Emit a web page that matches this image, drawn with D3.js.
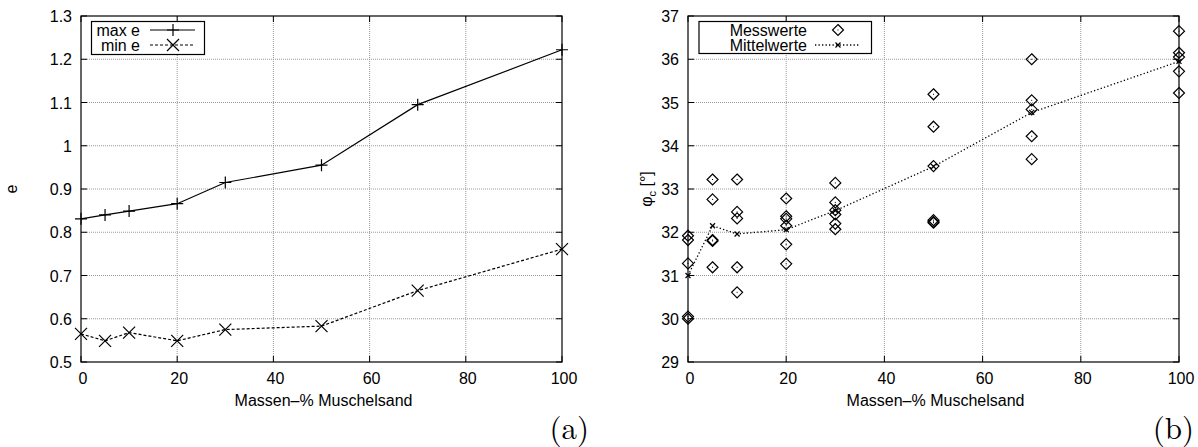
<!DOCTYPE html>
<html><head><meta charset="utf-8">
<script src="https://cdn.jsdelivr.net/npm/d3@7"></script>
<style>body{margin:0;background:#fff}svg{display:block}text{font-family:"Liberation Sans",Arial,sans-serif}</style>
</head><body><svg id="c" width="1198" height="447"></svg>
<script>
// ---- Data (a)
const massA = [0, 5, 10, 20, 30, 50, 70, 100];
const maxE = [0.831, 0.840, 0.849, 0.866, 0.915, 0.955, 1.095, 1.222];
const minE = [0.565, 0.549, 0.568, 0.549, 0.575, 0.583, 0.665, 0.761];
const yTicksA = [0.5, 0.6, 0.7, 0.8, 0.9, 1, 1.1, 1.2, 1.3];
const xTicks = [0, 20, 40, 60, 80, 100];
// ---- Data (b)
const messX = [0,0,0,0,0, 5,5,5,5,5, 10,10,10,10,10, 20,20,20,20,20,20, 30,30,30,30,30,30, 50,50,50,50,50,50, 70,70,70,70,70, 100,100,100,100,100];
const messY = [31.92,31.82,31.28,30.05,30.0, 33.22,32.76,31.82,31.80,31.19, 33.22,32.47,32.32,31.19,30.61, 32.78,32.37,32.31,32.15,31.72,31.27, 33.14,32.69,32.51,32.41,32.20,32.07, 35.19,34.44,33.53,32.28,32.24,32.22, 36.0,35.05,34.84,34.22,33.69, 36.65,36.15,36.05,35.72,35.22];
const mittelX = [0, 5, 10, 20, 30, 50, 70, 100];
const mittelY = [31.0, 32.15, 31.96, 32.06, 32.5, 33.52, 34.77, 35.95];
const yTicksB = [29, 30, 31, 32, 33, 34, 35, 36, 37];

const svg = d3.select("#c");

function frame(x, y, xt, yt, fmt) {
  const g = svg.append("g");
  const [x0, x1] = x.range(), [y0, y1] = y.range();
  xt.forEach(t => { if (t !== 0 && t !== 100) g.append("line").attr("x1", x(t)).attr("x2", x(t)).attr("y1", y0).attr("y2", y1).attr("stroke", "#999").attr("stroke-width", 1).attr("stroke-dasharray", "1,1"); });
  yt.forEach((t, i) => { if (i > 0 && i < yt.length - 1) g.append("line").attr("x1", x0).attr("x2", x1).attr("y1", y(t)).attr("y2", y(t)).attr("stroke", "#999").attr("stroke-width", 1).attr("stroke-dasharray", "1,1"); });
  xt.forEach(t => {
    g.append("line").attr("x1", x(t)).attr("x2", x(t)).attr("y1", y0).attr("y2", y0 - 6).attr("stroke", "#000");
    g.append("line").attr("x1", x(t)).attr("x2", x(t)).attr("y1", y1).attr("y2", y1 + 6).attr("stroke", "#000");
    g.append("text").attr("x", x(t) + 2).attr("y", y0 + 22).attr("text-anchor", "middle").attr("font-size", 16).text(t);
  });
  yt.forEach(t => {
    g.append("line").attr("x1", x0).attr("x2", x0 + 6).attr("y1", y(t)).attr("y2", y(t)).attr("stroke", "#000");
    g.append("line").attr("x1", x1).attr("x2", x1 - 6).attr("y1", y(t)).attr("y2", y(t)).attr("stroke", "#000");
    g.append("text").attr("x", x0 - 9).attr("y", y(t) + 6).attr("text-anchor", "end").attr("font-size", 16).text(fmt(t));
  });
  g.append("rect").attr("x", x0).attr("y", y1).attr("width", x1 - x0).attr("height", y0 - y1).attr("fill", "none").attr("stroke", "#000").attr("stroke-width", 1.2);
  g.append("text").attr("x", (x0 + x1) / 2 + 2).attr("y", y0 + 44).attr("text-anchor", "middle").attr("font-size", 16).text("Massen–% Muschelsand");
  return g;
}

function plus(g, cx, cy, s) {
  g.append("path").attr("d", `M${cx - s},${cy}H${cx + s}M${cx},${cy - s}V${cy + s}`).attr("stroke", "#000").attr("stroke-width", 1.2).attr("fill", "none");
}
function cross(g, cx, cy, s) {
  g.append("path").attr("d", `M${cx - s},${cy - s}L${cx + s},${cy + s}M${cx - s},${cy + s}L${cx + s},${cy - s}`).attr("stroke", "#000").attr("stroke-width", 1.2).attr("fill", "none");
}
function diamond(g, cx, cy, s) {
  g.append("path").attr("d", `M${cx},${cy - s}L${cx + s},${cy}L${cx},${cy + s}L${cx - s},${cy}Z`).attr("stroke", "#000").attr("stroke-width", 1.2).attr("fill", "none");
  g.append("rect").attr("x", cx - 0.5).attr("y", cy - 0.5).attr("width", 1).attr("height", 1).attr("fill", "#000");
}
const serif = "'Latin Modern Roman','Liberation Serif','DejaVu Serif',serif";

// ---- Plot (a)
const xA = d3.scaleLinear().domain([0, 100]).range([81, 562]);
const yA = d3.scaleLinear().domain([0.5, 1.3]).range([362, 16]);
const gA = frame(xA, yA, xTicks, yTicksA, d => String(d));
const lineA = d3.line().x(d => xA(d[0])).y(d => yA(d[1]));
gA.append("path").attr("d", lineA(massA.map((m, i) => [m, maxE[i]]))).attr("fill", "none").attr("stroke", "#000").attr("stroke-width", 1.2);
gA.append("path").attr("d", lineA(massA.map((m, i) => [m, minE[i]]))).attr("fill", "none").attr("stroke", "#000").attr("stroke-width", 1.2).attr("stroke-dasharray", "3,2");
massA.forEach((m, i) => { plus(gA, xA(m), yA(maxE[i]), 6); cross(gA, xA(m), yA(minE[i]), 6); });
svg.append("text").attr("transform", "translate(17,189) rotate(-90)").attr("text-anchor", "middle").attr("font-size", 16).text("e");
// legend (a)
gA.append("rect").attr("x", 91.5).attr("y", 21.5).attr("width", 113).attr("height", 33).attr("fill", "#fff").attr("stroke", "#000").attr("stroke-width", 1.2);
gA.append("text").attr("x", 140).attr("y", 35.5).attr("text-anchor", "end").attr("font-size", 16).text("max e");
gA.append("text").attr("x", 140).attr("y", 50.5).attr("text-anchor", "end").attr("font-size", 16).text("min e");
gA.append("line").attr("x1", 150).attr("x2", 195).attr("y1", 30).attr("y2", 30).attr("stroke", "#000").attr("stroke-width", 1.2);
plus(gA, 173, 30, 6);
gA.append("line").attr("x1", 150).attr("x2", 195).attr("y1", 45).attr("y2", 45).attr("stroke", "#000").attr("stroke-width", 1.2).attr("stroke-dasharray", "3,2");
cross(gA, 173, 45, 6);
svg.append("text").attr("x", 589).attr("y", 439).attr("text-anchor", "end").style("font-family", serif).attr("font-size", 31).text("(a)");

// ---- Plot (b)
const xB = d3.scaleLinear().domain([0, 100]).range([688, 1179]);
const yB = d3.scaleLinear().domain([29, 37]).range([362, 16]);
const gB = frame(xB, yB, xTicks, yTicksB, d => String(d));
const lineB = d3.line().x(d => xB(d[0])).y(d => yB(d[1]));
gB.append("path").attr("d", lineB(mittelX.map((m, i) => [m, mittelY[i]]))).attr("fill", "none").attr("stroke", "#000").attr("stroke-width", 1.3).attr("stroke-dasharray", "1.3,2.2");
messX.forEach((m, i) => diamond(gB, xB(m), yB(messY[i]), 5.5));
mittelX.forEach((m, i) => cross(gB, xB(m), yB(mittelY[i]), 2.5));
const lab = svg.append("text").attr("transform", "translate(652,189) rotate(-90)").attr("text-anchor", "middle").attr("font-size", 16);
lab.append("tspan").text("φ");
lab.append("tspan").attr("font-size", 11).attr("dy", 4).text("c");
lab.append("tspan").attr("dy", -4).text(" [°]");
// legend (b)
gB.append("rect").attr("x", 699).attr("y", 21.5).attr("width", 172.5).attr("height", 32).attr("fill", "#fff").attr("stroke", "#000").attr("stroke-width", 1.2);
gB.append("text").attr("x", 807).attr("y", 35.5).attr("text-anchor", "end").attr("font-size", 16).text("Messwerte");
gB.append("text").attr("x", 807).attr("y", 50.5).attr("text-anchor", "end").attr("font-size", 16).text("Mittelwerte");
diamond(gB, 838, 30, 5.5);
gB.append("line").attr("x1", 815).attr("x2", 860).attr("y1", 45).attr("y2", 45).attr("stroke", "#000").attr("stroke-width", 1.3).attr("stroke-dasharray", "1.3,2.2");
cross(gB, 838, 45, 2.5);
svg.append("text").attr("x", 1194).attr("y", 439).attr("text-anchor", "end").style("font-family", serif).attr("font-size", 31).text("(b)");
</script></body></html>
